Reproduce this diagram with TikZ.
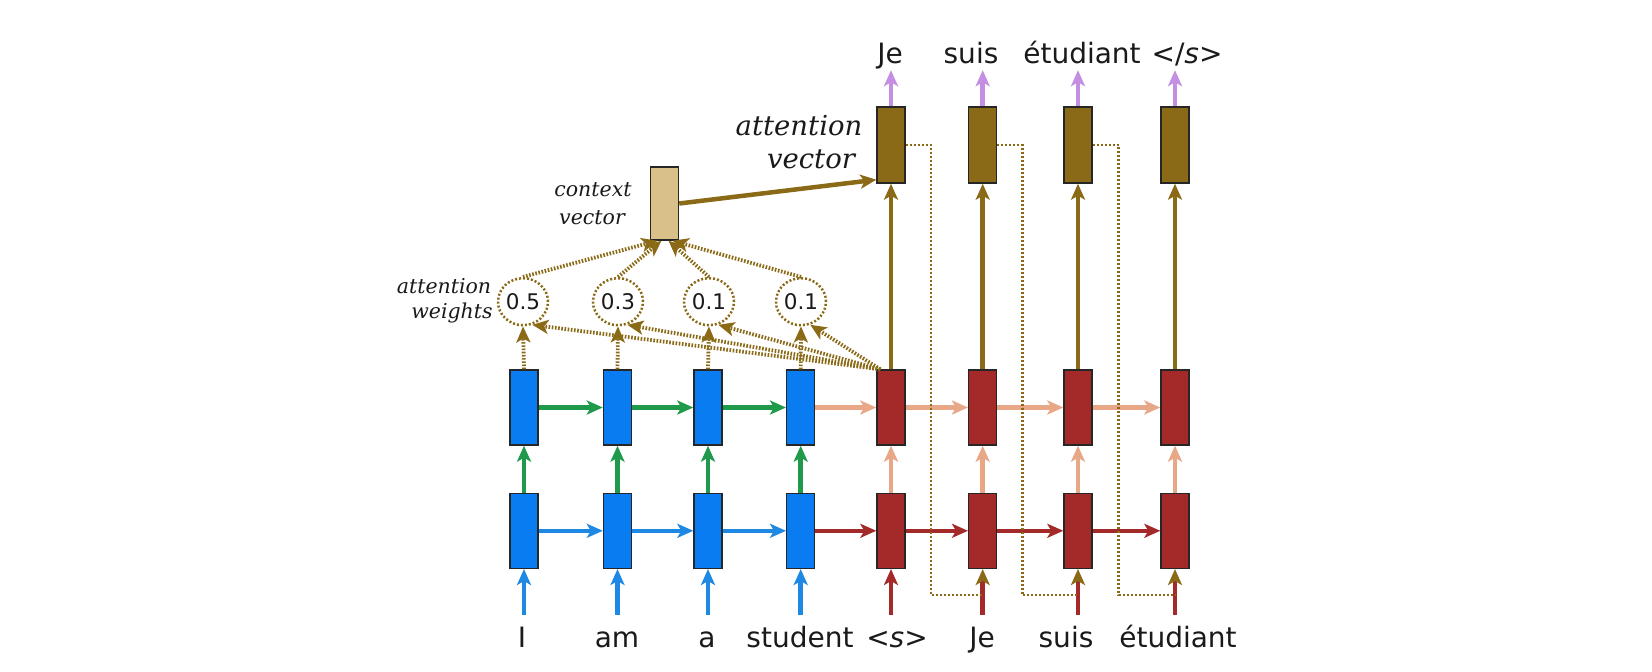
\documentclass[tikz,border=0pt]{standalone}
\usepackage{fontspec}
\setmainfont{DejaVu Sans}
\newfontfamily\dvserif{DejaVu Serif}
\usetikzlibrary{arrows.meta,shapes.geometric,calc}
\definecolor{cblue}{HTML}{0A7CF2}
\definecolor{ablue}{HTML}{1E88E5}
\definecolor{cgreen}{HTML}{1E9A4A}
\definecolor{cred}{HTML}{A42A2A}
\definecolor{csalmon}{HTML}{E8A787}
\definecolor{colive}{HTML}{8A6A16}
\definecolor{ctan}{HTML}{D8C088}
\definecolor{cpurple}{HTML}{C48EE2}
\definecolor{ctext}{HTML}{1A1A1A}
\tikzset{
  cellbox/.style={draw=black!85, line width=1.4pt, minimum width=28pt, minimum height=75pt, inner sep=0pt},
  arr/.style={line width=4.5pt, -{Stealth[length=16pt,width=14pt,inset=4pt]}},
  oliveheadarr/.style={line width=4.5pt, -{Stealth[length=16pt,width=14pt,inset=4pt,color=colive]}},
  dotarr/.style={colive, line width=3.8pt, dash pattern=on 1.6pt off 1.6pt, -{Stealth[length=16pt,width=14pt,inset=4pt]}},
  fbline/.style={colive, line width=2.5pt, dash pattern=on 2pt off 2pt},
  wcirc/.style={ellipse, draw=colive, line width=2.5pt, dash pattern=on 2pt off 2pt, minimum width=50pt, minimum height=47pt, inner sep=0pt, font=\fontsize{21.5}{24}\selectfont, text=ctext},
  inword/.style={anchor=base, inner sep=0pt, text height=32pt, text depth=0pt, font=\fontsize{28}{30}\selectfont, text=ctext},
  outword/.style={anchor=base, inner sep=0pt, text depth=7pt, font=\fontsize{28}{30}\selectfont, text=ctext},
  smalllab/.style={anchor=base, inner sep=0pt, font=\dvserif\itshape\fontsize{20.5}{24}\selectfont, text=ctext},
  biglab/.style={anchor=base, inner sep=0pt, font=\dvserif\itshape\fontsize{27.5}{30}\selectfont, text=ctext},
}
\begin{document}
\begin{tikzpicture}[x=1pt,y=-1pt]
\fill[white] (0,0) rectangle (1652,672);
\useasboundingbox (0,0) rectangle (1652,672);

% boxes
\foreach \i/\x in {1/524,2/617.5,3/708,4/800.7}{
  \node[cellbox, fill=cblue] (l\i) at (\x,530.8) {};
  \node[cellbox, fill=cblue] (u\i) at (\x,407.5) {};
}
\foreach \i/\x in {5/891,6/982.7,7/1078,8/1175}{
  \node[cellbox, fill=cred] (l\i) at (\x,530.8) {};
  \node[cellbox, fill=cred] (u\i) at (\x,407.5) {};
}
\node[cellbox, fill=colive, minimum height=76pt] (bA) at (891,145) {};
\node[cellbox, fill=colive, minimum height=76pt] (bB) at (982.7,145) {};
\node[cellbox, fill=colive, minimum height=76pt] (bC) at (1078,145) {};
\node[cellbox, fill=colive, minimum height=76pt] (bD) at (1175,145) {};
\node[cellbox, fill=ctan, minimum height=73pt] (cv) at (664.5,203.5) {};

% weights
\node[wcirc] (w1) at (523,301.7) {0.5};
\node[wcirc] (w2) at (618,301.7) {0.3};
\node[wcirc] (w3) at (709,301.7) {0.1};
\node[wcirc] (w4) at (801,301.7) {0.1};

% words
\node[inword] (iw1) at (522,647) {I};
\node[inword] (iw2) at (617,647) {am};
\node[inword] (iw3) at (707,647) {a};
\node[inword] (iw4) at (800,647) {student};
\node[inword] (iw5) at (897,647) {<\textit{s}>};
\node[inword] (iw6) at (982,647) {Je};
\node[inword] (iw7) at (1066,647) {suis};
\node[inword] (iw8) at (1178,647) {étudiant};

\node[outword] (ow1) at (890,63) {Je};
\node[outword] (ow2) at (971,63) {suis};
\node[outword] (ow3) at (1082,63) {étudiant};
\node[outword] (ow4) at (1187,63) {</\textit{s}>};

% labels
\node[smalllab] (ctx1) at (593,196.7) {context};
\node[smalllab] (ctx2) at (592,224) {vector};
\node[smalllab] (aw1) at (444,293) {attention};
\node[smalllab] (aw2) at (452,318) {weights};
\node[biglab] (av1) at (799,135) {attention};
\node[biglab] (av2) at (811,168) {vector};

% lower row horizontal
\foreach \a/\b in {1/2,2/3,3/4}{\draw[arr, ablue] (l\a.east) -- (l\b.west);}
\foreach \a/\b in {4/5,5/6,6/7,7/8}{\draw[arr, cred] (l\a.east) -- (l\b.west);}
% upper row horizontal
\foreach \a/\b in {1/2,2/3,3/4}{\draw[arr, cgreen] (u\a.east) -- (u\b.west);}
\foreach \a/\b in {4/5,5/6,6/7,7/8}{\draw[arr, csalmon] (u\a.east) -- (u\b.west);}
% vertical
\foreach \i in {1,2,3,4}{\draw[arr, cgreen] (l\i.north) -- (u\i.south);}
\foreach \i in {5,6,7,8}{\draw[arr, csalmon] (l\i.north) -- (u\i.south);}
% inputs
\foreach \i in {1,2,3,4}{\draw[arr, ablue] (iw\i.north -| l\i.south) -- (l\i.south);}
\draw[arr, cred] (iw5.north -| l5.south) -- (l5.south);
\foreach \i in {6,7,8}{\draw[oliveheadarr, cred] (iw\i.north -| l\i.south) -- (l\i.south);}

% feedback dotted lines
\coordinate (k6) at (931,595);
\coordinate (k7) at (1022.7,595);
\coordinate (k8) at (1118.7,595);
\draw[fbline] (bA.east) -| (k6) -- (k6 -| l6.south);
\draw[fbline] (bB.east) -| (k7) -- (k7 -| l7.south);
\draw[fbline] (bC.east) -| (k8) -- (k8 -| l8.south);

% outputs
\draw[arr, cpurple] (bA.north) -- (ow1.south -| bA.north);
\draw[arr, cpurple] (bB.north) -- (ow2.south -| bB.north);
\draw[arr, cpurple] (bC.north) -- (ow3.south -| bC.north);
\draw[arr, cpurple] (bD.north) -- (ow4.south -| bD.north);

% decoder top to attention vectors
\draw[arr, colive] (u5.north) -- (bA.south);
\draw[arr, colive] (u6.north) -- (bB.south);
\draw[arr, colive] (u7.north) -- (bC.south);
\draw[arr, colive] (u8.north) -- (bD.south);

% attention
\foreach \i in {1,2,3,4}{
  \draw[dotarr] (u\i.north) -- (w\i.south);
  \draw[dotarr] ([xshift=4pt]u5.north west) -- (w\i.-68);
}
\draw[dotarr] (w1.north) -- ([xshift=-7pt]cv.south);
\draw[dotarr] (w2.north) -- ([xshift=-3pt]cv.south);
\draw[dotarr] (w3.north) -- ([xshift=4pt]cv.south);
\draw[dotarr] (w4.north) -- ([xshift=8pt]cv.south);

% context to attention vector
\draw[arr, colive] (cv.east) -- ([yshift=4pt]bA.south west);
\end{tikzpicture}
\end{document}
